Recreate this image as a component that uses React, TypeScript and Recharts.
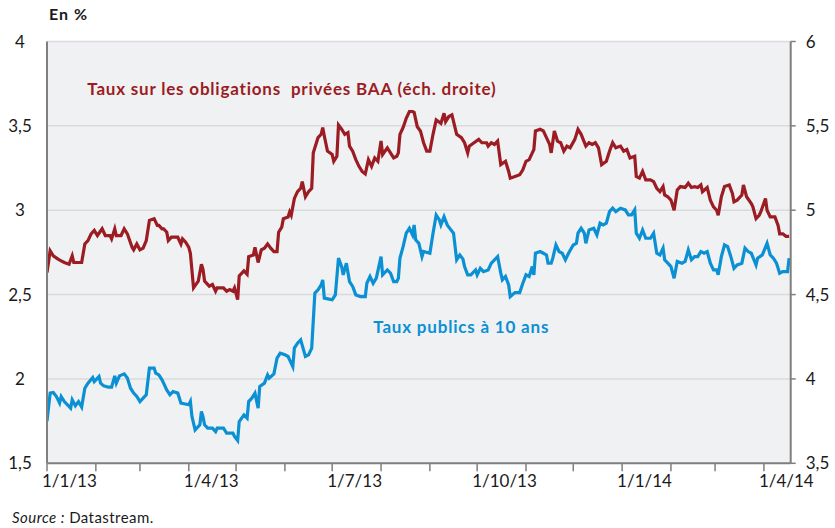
import React from 'react';
import { LineChart, Line, XAxis, YAxis, CartesianGrid } from 'recharts';

// Taux sur les obligations privées BAA (échelle de droite)
const baaDates = [
  '2013-01-01','2013-01-03','2013-01-05','2013-01-08','2013-01-10','2013-01-12','2013-01-15','2013-01-17','2013-01-18','2013-01-22',
  '2013-01-23','2013-01-25','2013-01-27','2013-01-29','2013-01-31','2013-02-02','2013-02-05','2013-02-07','2013-02-10','2013-02-11',
  '2013-02-13','2013-02-14','2013-02-17','2013-02-19','2013-02-21','2013-02-24','2013-02-25','2013-02-27','2013-03-01','2013-03-03',
  '2013-03-05','2013-03-07','2013-03-10','2013-03-12','2013-03-13','2013-03-15','2013-03-16','2013-03-18','2013-03-19','2013-03-21',
  '2013-03-23','2013-03-25','2013-03-27','2013-03-28','2013-03-30','2013-04-01','2013-04-02','2013-04-04','2013-04-07','2013-04-09',
  '2013-04-10','2013-04-11','2013-04-14','2013-04-16','2013-04-18','2013-04-19','2013-04-23','2013-04-25','2013-04-27','2013-04-29',
  '2013-04-30','2013-05-02','2013-05-03','2013-05-06','2013-05-08','2013-05-09','2013-05-12','2013-05-13','2013-05-15','2013-05-17',
  '2013-05-19','2013-05-21','2013-05-23','2013-05-25','2013-05-27','2013-05-28','2013-05-30','2013-05-31','2013-06-03','2013-06-04',
  '2013-06-05','2013-06-07','2013-06-09','2013-06-11','2013-06-12','2013-06-14','2013-06-16','2013-06-18','2013-06-19','2013-06-22',
  '2013-06-24','2013-06-25','2013-06-26','2013-06-28','2013-07-01','2013-07-02','2013-07-04','2013-07-05','2013-07-07','2013-07-09',
  '2013-07-11','2013-07-12','2013-07-14','2013-07-16','2013-07-18','2013-07-20','2013-07-22','2013-07-24','2013-07-26','2013-07-28',
  '2013-07-30','2013-08-01','2013-08-02','2013-08-05','2013-08-07','2013-08-09','2013-08-11','2013-08-12','2013-08-13','2013-08-15',
  '2013-08-17','2013-08-19','2013-08-21','2013-08-22','2013-08-24','2013-08-26','2013-08-28','2013-08-30','2013-09-01','2013-09-03',
  '2013-09-05','2013-09-08','2013-09-10','2013-09-11','2013-09-13','2013-09-15','2013-09-18','2013-09-21','2013-09-23','2013-09-25',
  '2013-09-26','2013-09-29','2013-10-02','2013-10-04','2013-10-07','2013-10-08','2013-10-10','2013-10-12','2013-10-14','2013-10-16',
  '2013-10-19','2013-10-21','2013-10-22','2013-10-25','2013-10-28','2013-10-30','2013-11-01','2013-11-03','2013-11-05','2013-11-06',
  '2013-11-07','2013-11-10','2013-11-12','2013-11-14','2013-11-16','2013-11-17','2013-11-19','2013-11-21','2013-11-23','2013-11-25',
  '2013-11-27','2013-11-29','2013-12-02','2013-12-04','2013-12-06','2013-12-09','2013-12-11','2013-12-13','2013-12-15','2013-12-17',
  '2013-12-19','2013-12-22','2013-12-24','2013-12-26','2013-12-28','2013-12-31','2014-01-02','2014-01-04','2014-01-06','2014-01-09',
  '2014-01-10','2014-01-12','2014-01-14','2014-01-16','2014-01-19','2014-01-21','2014-01-23','2014-01-25','2014-01-27','2014-01-28',
  '2014-01-30','2014-02-01','2014-02-03','2014-02-05','2014-02-07','2014-02-10','2014-02-12','2014-02-14','2014-02-16','2014-02-18',
  '2014-02-20','2014-02-21','2014-02-24','2014-02-26','2014-02-28','2014-03-02','2014-03-03','2014-03-05','2014-03-07','2014-03-10',
  '2014-03-12','2014-03-13','2014-03-15','2014-03-18','2014-03-19','2014-03-21','2014-03-24','2014-03-25','2014-03-27','2014-03-29',
  '2014-03-30','2014-04-02','2014-04-03','2014-04-05','2014-04-08','2014-04-10','2014-04-11','2014-04-13','2014-04-15','2014-04-17',
];
const baaValues = [
  4.63,4.76,4.73,4.71,4.70,4.69,4.68,4.73,4.69,4.69,
  4.69,4.80,4.82,4.86,4.88,4.85,4.89,4.85,4.85,4.83,
  4.89,4.85,4.85,4.89,4.86,4.78,4.765,4.80,4.765,4.775,
  4.82,4.94,4.95,4.91,4.91,4.89,4.89,4.87,4.82,4.84,
  4.84,4.84,4.80,4.83,4.81,4.78,4.745,4.54,4.58,4.68,
  4.65,4.58,4.55,4.56,4.52,4.54,4.54,4.52,4.53,4.52,
  4.54,4.47,4.61,4.64,4.62,4.725,4.735,4.78,4.69,4.765,
  4.775,4.80,4.775,4.755,4.755,4.87,4.90,4.95,4.96,4.99,
  4.97,5.07,5.11,5.13,5.17,5.08,5.11,5.13,5.34,5.43,
  5.45,5.49,5.44,5.35,5.33,5.29,5.32,5.505,5.48,5.45,
  5.46,5.38,5.35,5.30,5.26,5.23,5.215,5.30,5.26,5.31,
  5.29,5.41,5.33,5.37,5.34,5.31,5.32,5.34,5.45,5.49,
  5.545,5.585,5.585,5.58,5.495,5.47,5.40,5.35,5.35,5.45,
  5.535,5.515,5.575,5.525,5.555,5.565,5.45,5.43,5.40,5.34,
  5.38,5.40,5.42,5.40,5.40,5.38,5.40,5.39,5.41,5.27,
  5.29,5.23,5.19,5.20,5.21,5.24,5.29,5.30,5.34,5.36,
  5.47,5.48,5.47,5.43,5.39,5.34,5.47,5.41,5.40,5.35,
  5.38,5.37,5.42,5.48,5.45,5.38,5.40,5.39,5.40,5.37,
  5.27,5.29,5.35,5.40,5.37,5.38,5.35,5.36,5.31,5.32,
  5.20,5.19,5.23,5.18,5.18,5.17,5.13,5.11,5.14,5.09,
  5.08,5.06,5.00,5.12,5.14,5.135,5.16,5.135,5.14,5.135,
  5.15,5.11,5.135,5.06,5.02,5.00,4.97,5.08,5.14,5.15,
  5.10,5.05,5.06,5.09,5.15,5.08,5.04,5.02,4.95,4.97,
  4.99,5.07,5.00,4.96,4.96,4.91,4.86,4.86,4.845,4.845,
];

// Taux publics à 10 ans (échelle de gauche)
const tsyDates = [
  '2013-01-01','2013-01-03','2013-01-05','2013-01-07','2013-01-09','2013-01-10','2013-01-12','2013-01-16','2013-01-17','2013-01-19',
  '2013-01-21','2013-01-23','2013-01-25','2013-01-27','2013-01-30','2013-01-31','2013-02-03','2013-02-04','2013-02-06','2013-02-09',
  '2013-02-11','2013-02-13','2013-02-14','2013-02-16','2013-02-19','2013-02-21','2013-02-23','2013-02-25','2013-02-27','2013-03-01',
  '2013-03-03','2013-03-05','2013-03-07','2013-03-10','2013-03-11','2013-03-13','2013-03-15','2013-03-16','2013-03-18','2013-03-20',
  '2013-03-22','2013-03-25','2013-03-27','2013-03-29','2013-04-01','2013-04-02','2013-04-03','2013-04-05','2013-04-08','2013-04-09',
  '2013-04-10','2013-04-11','2013-04-13','2013-04-16','2013-04-18','2013-04-19','2013-04-23','2013-04-25','2013-04-27','2013-04-29',
  '2013-04-30','2013-05-02','2013-05-03','2013-05-06','2013-05-08','2013-05-09','2013-05-11','2013-05-13','2013-05-15','2013-05-16',
  '2013-05-19','2013-05-21','2013-05-22','2013-05-25','2013-05-27','2013-05-29','2013-06-01','2013-06-03','2013-06-04','2013-06-06',
  '2013-06-07','2013-06-09','2013-06-11','2013-06-14','2013-06-16','2013-06-18','2013-06-20','2013-06-22','2013-06-24','2013-06-25',
  '2013-06-26','2013-06-29','2013-07-01','2013-07-03','2013-07-05','2013-07-07','2013-07-08','2013-07-10','2013-07-12','2013-07-14',
  '2013-07-16','2013-07-19','2013-07-22','2013-07-23','2013-07-25','2013-07-27','2013-07-29','2013-08-01','2013-08-02','2013-08-05',
  '2013-08-07','2013-08-09','2013-08-11','2013-08-12','2013-08-13','2013-08-15','2013-08-17','2013-08-19','2013-08-21','2013-08-22',
  '2013-08-23','2013-08-25','2013-08-27','2013-08-28','2013-09-01','2013-09-03','2013-09-05','2013-09-07','2013-09-08','2013-09-10',
  '2013-09-12','2013-09-14','2013-09-16','2013-09-18','2013-09-20','2013-09-22','2013-09-23','2013-09-25','2013-09-27','2013-09-30',
  '2013-10-01','2013-10-03','2013-10-05','2013-10-08','2013-10-10','2013-10-12','2013-10-14','2013-10-16','2013-10-17','2013-10-19',
  '2013-10-21','2013-10-22','2013-10-25','2013-10-28','2013-10-30','2013-11-01','2013-11-03','2013-11-05','2013-11-06','2013-11-07',
  '2013-11-10','2013-11-12','2013-11-14','2013-11-15','2013-11-17','2013-11-18','2013-11-20','2013-11-22','2013-11-24','2013-11-26',
  '2013-11-28','2013-12-01','2013-12-03','2013-12-04','2013-12-06','2013-12-08','2013-12-09','2013-12-11','2013-12-14','2013-12-16',
  '2013-12-18','2013-12-20','2013-12-22','2013-12-24','2013-12-26','2013-12-28','2013-12-31','2014-01-03','2014-01-05','2014-01-07',
  '2014-01-09','2014-01-10','2014-01-12','2014-01-14','2014-01-16','2014-01-19','2014-01-21','2014-01-23','2014-01-25','2014-01-27',
  '2014-01-28','2014-01-30','2014-02-01','2014-02-03','2014-02-05','2014-02-08','2014-02-10','2014-02-12','2014-02-14','2014-02-16',
  '2014-02-18','2014-02-20','2014-02-22','2014-02-24','2014-02-26','2014-02-28','2014-03-02','2014-03-03','2014-03-05','2014-03-07',
  '2014-03-09','2014-03-11','2014-03-13','2014-03-15','2014-03-18','2014-03-20','2014-03-22','2014-03-24','2014-03-27','2014-03-28',
  '2014-03-31','2014-04-03','2014-04-05','2014-04-07','2014-04-09','2014-04-11','2014-04-13','2014-04-16','2014-04-17',
];
const tsyValues = [
  1.75,1.916,1.92,1.896,1.857,1.896,1.866,1.827,1.876,1.841,
  1.866,1.833,1.945,1.975,2.008,1.984,2.014,1.975,1.959,1.951,
  1.951,2.018,1.975,2.018,2.03,2.005,1.945,1.916,1.896,1.866,
  1.886,1.906,2.064,2.064,2.034,2.024,1.995,1.975,1.935,1.906,
  1.925,1.916,1.857,1.853,1.847,1.866,1.777,1.698,1.728,1.807,
  1.777,1.728,1.708,1.708,1.688,1.708,1.708,1.679,1.679,1.679,
  1.659,1.635,1.748,1.787,1.768,1.866,1.886,1.916,1.827,1.955,
  1.975,2.024,2.005,2.03,2.123,2.153,2.143,2.133,2.113,2.073,
  2.183,2.212,2.232,2.133,2.143,2.183,2.508,2.528,2.557,2.587,
  2.479,2.473,2.469,2.498,2.716,2.666,2.617,2.686,2.577,2.548,
  2.498,2.488,2.488,2.567,2.607,2.567,2.597,2.725,2.617,2.646,
  2.627,2.577,2.577,2.597,2.716,2.784,2.864,2.893,2.854,2.913,
  2.824,2.804,2.725,2.755,2.745,2.864,2.972,2.943,2.913,2.962,
  2.913,2.888,2.864,2.706,2.735,2.71,2.666,2.617,2.617,2.646,
  2.617,2.656,2.636,2.646,2.686,2.706,2.725,2.627,2.587,2.607,
  2.557,2.488,2.512,2.512,2.567,2.617,2.607,2.666,2.617,2.745,
  2.755,2.745,2.735,2.686,2.686,2.716,2.794,2.755,2.745,2.706,
  2.745,2.794,2.804,2.864,2.893,2.864,2.804,2.883,2.893,2.854,
  2.923,2.913,2.923,2.992,3.012,2.992,3.012,3.002,2.972,2.972,
  3.002,2.864,2.834,2.883,2.834,2.834,2.864,2.745,2.735,2.775,
  2.706,2.686,2.666,2.597,2.696,2.686,2.696,2.765,2.706,2.725,
  2.725,2.755,2.745,2.755,2.686,2.646,2.646,2.617,2.725,2.794,
  2.784,2.725,2.656,2.676,2.686,2.775,2.755,2.745,2.676,2.716,
  2.735,2.804,2.735,2.716,2.686,2.627,2.636,2.636,2.716,
];

const leftTicks = [1.5, 2, 2.5, 3, 3.5, 4];
const rightTicks = [3.5, 4, 4.5, 5, 5.5, 6];
const monthTicks = [
  '2013-01-01','2013-02-01','2013-03-01','2013-04-01','2013-05-01','2013-06-01','2013-07-01','2013-08-01',
  '2013-09-01','2013-10-01','2013-11-01','2013-12-01','2014-01-01','2014-02-01','2014-03-01','2014-04-01',
];
const labelledMonths = ['2013-01-01', '2013-04-01', '2013-07-01', '2013-10-01', '2014-01-01', '2014-04-01'];
const xStart = '2013-01-01';
const xEnd = '2014-04-18';

const RED = '#9b1c22';
const BLUE = '#0b90d3';
const AXIS = '#7f7f7f';
const FONT = 'Lato, "Open Sans", sans-serif';

const toTs = (s: string) => {
  const [y, m, d] = s.split('-').map(Number);
  return Date.UTC(y, m - 1, d);
};

const buildData = () => {
  const map = new Map<number, any>();
  baaDates.forEach((d, i) => {
    const t = toTs(d);
    const row = map.get(t) || { t };
    row.baa = baaValues[i];
    map.set(t, row);
  });
  tsyDates.forEach((d, i) => {
    const t = toTs(d);
    const row = map.get(t) || { t };
    row.tsy = tsyValues[i];
    map.set(t, row);
  });
  return Array.from(map.values()).sort((a, b) => a.t - b.t);
};

const data = buildData();
const labelledTs = labelledMonths.map(toTs);

const fmtNum = (v: number) => String(v).replace('.', ',');

const XTick = (props: any) => {
  const { x, y, payload } = props;
  if (!labelledTs.includes(payload.value)) return <g />;
  const dt = new Date(payload.value);
  const label = `${dt.getUTCDate()}/${dt.getUTCMonth() + 1}/${String(dt.getUTCFullYear()).slice(2)}`;
  return (
    <text x={x - 5} y={y + 14} textAnchor="start" fontFamily={FONT} fontSize={17} fill="#1a1a1a">
      {label}
    </text>
  );
};

const LeftTick = (props: any) => {
  const { y, payload } = props;
  return (
    <text x={20} y={y} dy={6} textAnchor="middle" fontFamily={FONT} fontSize={17} fill="#1a1a1a">
      {fmtNum(payload.value)}
    </text>
  );
};

const RightTick = (props: any) => {
  const { x, y, payload } = props;
  return (
    <text x={x} y={y} dy={6} textAnchor="start" fontFamily={FONT} fontSize={17} fill="#1a1a1a">
      {fmtNum(payload.value)}
    </text>
  );
};

export default function App() {
  return (
    <div style={{ position: 'absolute', left: 0, top: 0, width: 835, height: 528, background: '#fff' }}>
      <LineChart
        width={835}
        height={528}
        data={data}
        margin={{ top: 41.5, right: 0, bottom: 24.7, left: 0 }}
      >
        <CartesianGrid vertical={false} yAxisId="left" stroke="#d9dadc" strokeWidth={1.5} fill="#f0f1f3" />
        <XAxis
          dataKey="t"
          type="number"
          scale="time"
          domain={[toTs(xStart), toTs(xEnd)]}
          ticks={monthTicks.map(toTs)}
          interval={0}
          height={40}
          tickSize={8}
          tickMargin={2}
          axisLine={{ stroke: AXIS, strokeWidth: 2 }}
          tickLine={{ stroke: AXIS, strokeWidth: 1.5 }}
          tick={<XTick />}
          allowDataOverflow
        />
        <YAxis
          yAxisId="left"
          domain={[1.5, 4]}
          ticks={leftTicks}
          interval={0}
          width={47}
          axisLine={{ stroke: AXIS, strokeWidth: 2 }}
          tickLine={false}
          tick={<LeftTick />}
        />
        <YAxis
          yAxisId="right"
          orientation="right"
          domain={[3.5, 6]}
          ticks={rightTicks}
          interval={0}
          width={44.3}
          tickSize={5}
          tickMargin={10}
          axisLine={{ stroke: AXIS, strokeWidth: 2 }}
          tickLine={{ stroke: AXIS, strokeWidth: 1.5 }}
          tick={<RightTick />}
        />
        <Line
          yAxisId="right"
          dataKey="baa"
          type="linear"
          stroke={RED}
          strokeWidth={3.2}
          dot={false}
          connectNulls
          isAnimationActive={false}
        />
        <Line
          yAxisId="left"
          dataKey="tsy"
          type="linear"
          stroke={BLUE}
          strokeWidth={3.2}
          dot={false}
          connectNulls
          isAnimationActive={false}
        />
      </LineChart>
      <svg
        width={835}
        height={528}
        style={{ position: 'absolute', left: 0, top: 0, pointerEvents: 'none' }}
      >
        <text x={49} y={20} fontFamily={FONT} fontSize={16} letterSpacing={1} fontWeight={700} fill="#1a1a1a">
          En %
        </text>
        <text x={87.3} y={95} fontFamily={FONT} fontSize={17} letterSpacing={0.8} fontWeight={700} fill={RED} xmlSpace="preserve">
          Taux sur les obligations  privées BAA (éch. droite)
        </text>
        <text x={373.3} y={333} fontFamily={FONT} fontSize={17} letterSpacing={0.8} fontWeight={700} fill={BLUE}>
          Taux publics à 10 ans
        </text>
        <text x={12} y={523} fontFamily={FONT} fontSize={15} letterSpacing={0.45} fill="#1a1a1a">
          <tspan fontStyle="italic">Source :</tspan>
          <tspan> Datastream.</tspan>
        </text>
      </svg>
    </div>
  );
}
